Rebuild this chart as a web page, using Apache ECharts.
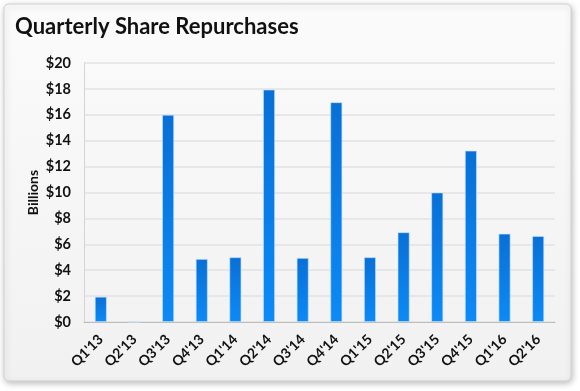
<!DOCTYPE html>
<html><head><meta charset="utf-8">
<script src="https://cdn.jsdelivr.net/npm/echarts@6/dist/echarts.min.js"></script>
<style>html,body{margin:0;padding:0;background:#fff}#c{width:580px;height:391px}</style>
</head><body><div id="c"></div>
<script>
const categories = ["Q1'13","Q2'13","Q3'13","Q4'13","Q1'14","Q2'14","Q3'14","Q4'14","Q1'15","Q2'15","Q3'15","Q4'15","Q1'16","Q2'16"];
const repurchases = [1.95, 0, 16, 4.87, 5.0, 17.95, 4.95, 16.97, 5.0, 6.93, 10, 13.23, 6.82, 6.64];
const yTicks = {min: 0, max: 20, interval: 2};
const titleText = 'Quarterly Share Repurchases';
const yName = 'Billions';

const chart = echarts.init(document.getElementById('c'), null, {renderer: 'canvas'});
const FONT = 'Lato';
chart.setOption({
  backgroundColor: '#ffffff',
  animation: false,
  graphic: [{
    type: 'rect', z: -10, silent: true,
    shape: {x: 4, y: 4, width: 567, height: 377, r: 5},
    style: {
      fill: new echarts.graphic.LinearGradient(0, 0, 0, 1, [
        {offset: 0, color: '#fbfbfb'}, {offset: 1, color: '#f1f1f1'}
      ]),
      stroke: '#d2d2d2', lineWidth: 1,
      shadowBlur: 6, shadowColor: 'rgba(0,0,0,0.25)', shadowOffsetX: 1, shadowOffsetY: 2
    }
  }],
  title: {
    text: titleText, left: 10, top: 11,
    textStyle: {fontFamily: FONT, fontWeight: 'bold', fontSize: 22, color: '#111'}
  },
  grid: {left: 84, right: 25, top: 63, bottom: 69, containLabel: false},
  xAxis: {
    type: 'category', data: categories,
    axisLine: {lineStyle: {color: '#bdbdbd', width: 1}},
    axisTick: {show: false},
    axisLabel: {interval: 0, rotate: 45, margin: 15, fontFamily: FONT, fontWeight: 'bold', fontSize: 14, color: '#111'}
  },
  yAxis: {
    type: 'value', min: yTicks.min, max: yTicks.max, interval: yTicks.interval,
    name: yName, nameLocation: 'middle', nameGap: 44, nameRotate: 90, nameMoveOverlap: false,
    nameTextStyle: {fontFamily: FONT, fontWeight: 'bold', fontSize: 14, color: '#111'},
    axisLine: {show: true, lineStyle: {color: '#d4d4d4'}},
    axisTick: {show: false},
    splitLine: {lineStyle: {color: '#e2e2e2', width: 1.5}},
    axisLabel: {margin: 13, fontFamily: FONT, fontWeight: 'bold', fontSize: 14.5, color: '#111',
      formatter: v => '$' + v}
  },
  series: [{
    type: 'bar', data: repurchases, barWidth: 12,
    itemStyle: {
      color: new echarts.graphic.LinearGradient(0, 0, 0, 1, [
        {offset: 0, color: '#0870d6'}, {offset: 1, color: '#0c8af6'}
      ]),
      borderColor: 'rgba(200,225,255,0.8)', borderWidth: 0.8
    }
  }]
});
</script></body></html>
